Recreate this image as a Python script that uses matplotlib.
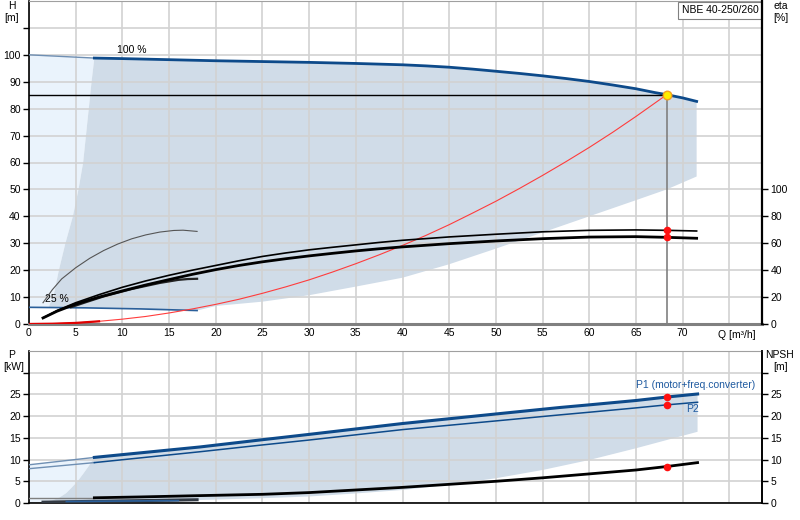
import matplotlib
matplotlib.use("Agg")
import matplotlib.pyplot as plt
import numpy as np

plt.rcParams['font.family'] = ['Liberation Sans', 'DejaVu Sans']
plt.rcParams['font.size'] = 7.5

# ---- values ----
q_ticks = [0, 5, 10, 15, 20, 25, 30, 35, 40, 45, 50, 55, 60, 65, 70]

# head, 100 % speed
q_h100 = [0, 7, 10, 15, 20, 25, 30, 35, 40, 42.5, 45, 47.5, 50, 52.5, 55, 57.5, 60, 62.5, 65, 67, 68.3, 70, 71.5]
h_h100 = [100, 98.8, 98.6, 98.2, 97.8, 97.5, 97.2, 96.8, 96.3, 95.9, 95.4, 94.7, 93.9, 93.1, 92.2, 91.2, 90.1, 88.8, 87.4, 86.0, 85.2, 84.0, 82.7]
# head, 25 % speed
q_h25 = [0, 6, 12, 18]
h_h25 = [6.2, 6.0, 5.6, 5.0]
# edges of the operating range (head)
q_left = [2.1, 2.3, 2.6, 3.2, 3.9, 4.7, 5.3, 5.8, 6.1, 6.4, 6.7, 7.0]
h_left = [6, 8, 10, 20, 30, 40, 50, 60, 70, 80, 90, 98.8]
q_low = [18, 20, 25, 30, 35, 40, 45, 50, 55, 60, 65, 68.3, 71.5]
h_low = [5.0, 6.7, 8.3, 10.7, 13.9, 17.2, 22.2, 28.0, 34.0, 40.0, 46.0, 50.0, 54.8]

# system curve
q_sys = [0, 2.5, 5, 7.5, 10, 12.5, 15, 17.5, 20, 22.5, 25, 27.5, 30, 32.5, 35, 37.5, 40, 42.5, 45,
         47.5, 50, 52.5, 55, 57.5, 60, 62.5, 65, 68.3]
h_sys = [0, 0.1, 0.4, 1.0, 1.8, 2.8, 4.1, 5.6, 7.3, 9.2, 11.4, 13.8, 16.4, 19.3, 22.4, 25.7, 29.2,
         32.9, 36.9, 41.2, 45.6, 50.3, 55.2, 60.3, 65.6, 71.2, 77.1, 85.2]

# duty point
q_duty = 68.3
h_duty = 85.2

# efficiency curves (eta, %)
q_eta = [1.5, 3, 5, 7.5, 10, 12.5, 15, 17.5, 20, 22.5, 25, 27.5, 30, 32.5, 35, 37.5, 40,
         45, 50, 55, 60, 65, 68.3, 71.5]
eta_pump = [4.5, 10.0, 15.8, 21.8, 27.3, 32.0, 36.2, 40.0, 43.5, 47.0, 50.2, 52.8, 55.1, 57.0,
            58.8, 60.6, 62.2, 64.7, 66.7, 68.5, 69.6, 69.9, 69.6, 69.1]
eta_total = [4.5, 9.5, 14.8, 20.0, 24.6, 29.0, 33.0, 36.9, 40.4, 43.5, 46.2, 48.5, 50.6, 52.5,
             54.3, 55.9, 57.3, 59.7, 61.7, 63.4, 64.6, 64.9, 64.4, 63.7]
q_eta25 = [1.5, 2.5, 3.5, 5, 6.5, 8, 9.5, 11, 12.5, 14, 15.5, 16.5, 18]
eta_pump25 = [15.8, 25.5, 33.5, 41.8, 48.8, 54.6, 59.4, 63.3, 66.2, 68.3, 69.5, 69.7, 68.8]
q_eta25t = [4.5, 6, 8, 11, 14, 16, 17, 18]
eta_total25 = [12.5, 16.0, 20.5, 26.0, 30.5, 32.8, 33.4, 33.6]

# power / NPSH
q_p = [0, 7, 18.3, 24.7, 30, 40, 50, 56.9, 60, 65, 68.3, 71.6]
p1 = [8.8, 10.5, 12.9, 14.5, 15.8, 18.3, 20.5, 22.0, 22.6, 23.6, 24.4, 25.1]
p2 = [7.9, 9.3, 11.8, 13.3, 14.5, 16.9, 18.9, 20.3, 20.9, 21.9, 22.6, 23.2]
q_npsh = [0, 7, 12, 18.3, 25, 30, 35, 40, 45, 50, 55, 60, 65, 68.3, 71.6]
npsh = [1.2, 1.2, 1.4, 1.7, 2.0, 2.4, 3.0, 3.6, 4.3, 5.0, 5.8, 6.7, 7.6, 8.4, 9.3]
q_p25 = [1.5, 6, 12, 18]
p1_25 = [0.2, 0.35, 0.55, 0.75]
q_p2_25 = [4, 10, 16]
p2_25 = [0.35, 0.45, 0.55]
# edges of the operating range (power)
q_pleft = [1.5, 2.5, 3.3, 4, 4.6, 5.2, 5.8, 6.4, 7]
p_left = [0.2, 0.6, 1.3, 2.3, 3.6, 5.0, 6.7, 8.5, 10.5]
q_plow = [18.3, 25, 30, 35, 40, 45, 50, 55, 60, 65, 71.6]
p_low = [0.7, 1.1, 1.5, 2.2, 3.0, 4.2, 5.7, 7.6, 9.9, 12.6, 16.4]

p_duty1 = 24.4
p_duty2 = 22.6
npsh_duty = 8.4
eta_duty1 = 69.6
eta_duty2 = 64.4

BLUE = '#0d4a8a'
GREY_FILL = '#d0dce8'
PALE_FILL = '#eaf3fc'
GRID = '#d2d2d2'

fig = plt.figure(figsize=(8, 5.2), dpi=100)
ax1 = fig.add_axes([29 / 800, 1 - 324 / 520, 733 / 800, 323 / 520])
ax2 = fig.add_axes([29 / 800, 1 - 503 / 520, 733 / 800, 152 / 520])
xmax = 78.5

# ---------- top panel ----------
qh = np.array(q_h100)
hh = np.array(h_h100)
thick = qh >= 7
# pale region left of the range
pale_q = [0, 0] + list(qh[thick][:1]) + q_left[::-1]
pale_h = [h_h25[0], h_h100[0]] + list(hh[thick][:1]) + h_left[::-1]
ax1.fill(pale_q, pale_h, color=PALE_FILL, lw=0, zorder=1)
# operating range
back25_q = [q for q in q_h25 if q > q_left[0] and q < q_low[0]][::-1]
back25_h = list(np.interp(back25_q, q_h25, h_h25))
grey_q = q_left + list(qh[thick][1:]) + q_low[::-1] + back25_q
grey_h = h_left + list(hh[thick][1:]) + h_low[::-1] + back25_h
ax1.fill(grey_q, grey_h, color=GREY_FILL, lw=0, zorder=1)

ax1.set_xlim(0, xmax)
ax1.set_ylim(0, 120)
ax1.set_xticks(q_ticks + [75])
ax1.set_xticklabels([str(q) for q in q_ticks] + [''])
ax1.set_yticks(range(0, 120, 10))
ax1.set_yticklabels([str(v) for v in range(0, 110, 10)] + [''])
ax1.set_axisbelow('line')
ax1.grid(True, color=GRID, lw=1.2)
ax1.tick_params(axis='x', length=0, pad=3)
ax1.tick_params(axis='y', length=4, width=1, pad=2, direction='out')

ax1.plot(qh[~thick].tolist() + [qh[thick][0]], hh[~thick].tolist() + [hh[thick][0]],
         color='#6f8fb3', lw=1.0, zorder=3)
ax1.plot(qh[thick], hh[thick], color=BLUE, lw=2.0, zorder=3)
ax1.plot(q_h25, h_h25, color='#2a5f9a', lw=1.2, zorder=3)
ax1.plot(q_sys, h_sys, color='#ff3c3c', lw=0.8, zorder=3)
ax1.plot(q_sys[:4], h_sys[:4], color='#e00000', lw=1.6, zorder=3)
ax1.plot([0, q_duty], [h_duty, h_duty], color='black', lw=1.0, zorder=3)
ax1.plot([q_duty, q_duty], [0, h_duty], color='#808080', lw=1.2, zorder=3)
ax1.scatter([q_duty], [h_duty], s=38, color='#ffee00', edgecolors='#f5a020', lw=1.0, zorder=6)
ax1.text(11, 101.8, '100 %', ha='center', va='center')
ax1.text(1.7, 9.3, '25 %', ha='left', va='center')
ax1.text(73.8, -4.2, 'Q [m\u00b3/h]', ha='left', va='center')
ax1.text(0.943, 0.971, 'NBE 40-250/260', transform=ax1.transAxes, ha='center', va='center',
         bbox=dict(boxstyle='square,pad=0.35', fc='white', ec='#808080', lw=0.8), zorder=10)

for side in ['left', 'right']:
    ax1.spines[side].set_color('black')
    ax1.spines[side].set_linewidth(1.2)
ax1.spines['top'].set_color('#a0a0a0')
ax1.spines['bottom'].set_color('#808080')
ax1.spines['bottom'].set_linewidth(2.2)

ax1r = ax1.twinx()
ax1r.set_ylim(0, 240)
ax1r.set_yticks(range(0, 101, 20))
ax1r.tick_params(axis='y', length=4, width=1, pad=2, direction='out')
ax1r.spines['right'].set_linewidth(1.6)
ax1r.spines['top'].set_visible(False)
ax1r.spines['bottom'].set_visible(False)
ax1r.spines['left'].set_visible(False)
ax1r.plot(q_eta25, eta_pump25, color='#555555', lw=0.8, zorder=3)
ax1r.plot(q_eta25t, eta_total25, color='#222222', lw=1.6, zorder=3)
ax1r.plot(q_eta, eta_pump, color='black', lw=1.2, zorder=3)
ax1r.plot(q_eta, eta_total, color='black', lw=2.0, zorder=3)
ax1r.scatter([q_duty, q_duty], [eta_duty1, eta_duty2], s=30, color='#ff1010', lw=0, zorder=6)

fig.text(12 / 800, 1 - 6 / 520, 'H', ha='center', va='center')
fig.text(12 / 800, 1 - 18 / 520, '[m]', ha='center', va='center')
fig.text(781 / 800, 1 - 6 / 520, 'eta', ha='center', va='center')
fig.text(781 / 800, 1 - 18 / 520, '[%]', ha='center', va='center')

# ---------- bottom panel ----------
qp = np.array(q_p)
pp1 = np.array(p1)
pp2 = np.array(p2)
thp = qp >= 7
ax2.fill([0, 0] + [qp[thp][0]] + q_pleft[::-1], [0, p1[0]] + [pp1[thp][0]] + p_left[::-1],
         color=PALE_FILL, lw=0, zorder=1)
gq = q_pleft + list(qp[thp][1:]) + q_plow[::-1]
gp = p_left + list(pp1[thp][1:]) + p_low[::-1]
ax2.fill(gq, gp, color=GREY_FILL, lw=0, zorder=1)

ax2.set_xlim(0, xmax)
ax2.set_ylim(0, 35)
ax2.set_xticks(q_ticks + [75])
ax2.set_xticklabels([])
ax2.set_yticks(range(0, 35, 5))
ax2.set_yticklabels([str(v) for v in range(0, 30, 5)] + [''])
ax2.set_axisbelow('line')
ax2.grid(True, color=GRID, lw=1.2)
ax2.tick_params(axis='x', length=0)
ax2.tick_params(axis='y', length=4, width=1, pad=2, direction='out')

qn = np.array(q_npsh)
nn = np.array(npsh)
thn = qn >= 7
ax2.plot(qp[~thp].tolist() + [qp[thp][0]], pp1[~thp].tolist() + [pp1[thp][0]], color='#6f8fb3', lw=1.0, zorder=3)
ax2.plot(qp[~thp].tolist() + [qp[thp][0]], pp2[~thp].tolist() + [pp2[thp][0]], color='#6f8fb3', lw=1.0, zorder=3)
ax2.plot(qn[~thn].tolist() + [qn[thn][0]], nn[~thn].tolist() + [nn[thn][0]], color='#808080', lw=1.0, zorder=3)
ax2.plot(qp[thp], pp1[thp], color=BLUE, lw=2.2, zorder=3)
ax2.plot(qp[thp], pp2[thp], color=BLUE, lw=1.1, zorder=3)
ax2.plot(qn[thn], nn[thn], color='black', lw=2.0, zorder=3)
ax2.plot(q_p25, p1_25, color='#333a44', lw=2.2, zorder=3)
ax2.plot(q_p2_25, p2_25, color='#2a5f9a', lw=1.2, zorder=3)
ax2.scatter([q_duty] * 3, [p_duty1, p_duty2, npsh_duty], s=30, color='#ff1010', lw=0, zorder=6)
ax2.text(65.0, 27.1, 'P1 (motor+freq.converter)', color='#1f5aa0', ha='left', va='center')
ax2.text(70.4, 21.6, 'P2', color='#1f5aa0', ha='left', va='center')

for side in ['left', 'right', 'bottom']:
    ax2.spines[side].set_color('black')
    ax2.spines[side].set_linewidth(1.2)
ax2.spines['top'].set_color('#a0a0a0')

ax2r = ax2.twinx()
ax2r.set_ylim(0, 35)
ax2r.set_yticks(range(0, 35, 5))
ax2r.set_yticklabels([str(v) for v in range(0, 30, 5)] + [''])
ax2r.tick_params(axis='y', length=4, width=1, pad=2, direction='out')
ax2r.spines['right'].set_linewidth(1.2)
for side in ['top', 'bottom', 'left']:
    ax2r.spines[side].set_visible(False)

fig.text(12 / 800, 1 - 355 / 520, 'P', ha='center', va='center')
fig.text(14 / 800, 1 - 367 / 520, '[kW]', ha='center', va='center')
fig.text(780 / 800, 1 - 355 / 520, 'NPSH', ha='center', va='center')
fig.text(781 / 800, 1 - 367 / 520, '[m]', ha='center', va='center')

fig.savefig('out.png', dpi=100)
